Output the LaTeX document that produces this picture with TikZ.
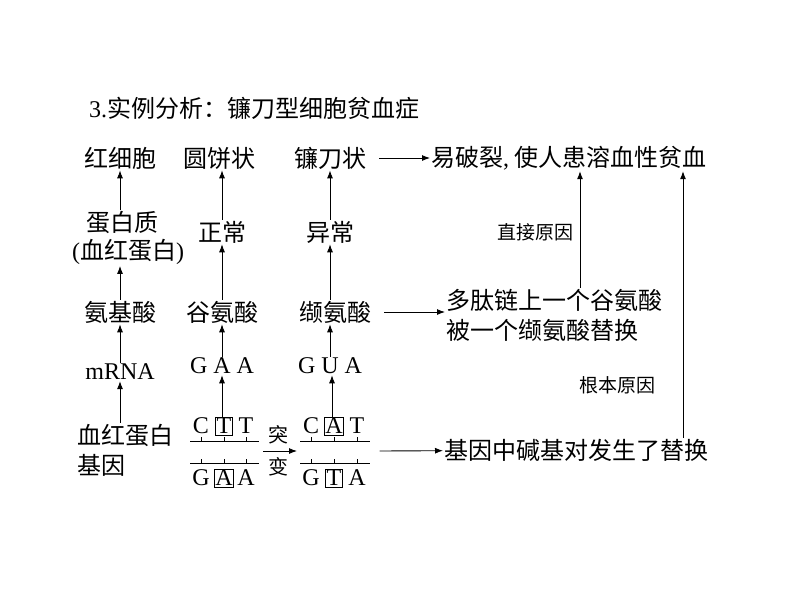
\documentclass[tikz,border=0pt]{standalone}
\usepackage{fontspec}
\setmainfont{Liberation Serif}
\newfontfamily\cjk{Noto Sans CJK SC}
\usetikzlibrary{arrows.meta}
\begin{document}
\begin{tikzpicture}[x=1pt,y=1pt,
  t/.style={inner sep=1pt,font=\fontsize{24}{27}\selectfont\cjk},
  l/.style={inner sep=1pt,font=\fontsize{24}{27}\selectfont},
  ar/.style={-{Latex[length=8pt,width=6pt]},line width=0.9pt},
  bx/.style={draw,line width=0.7pt,inner sep=1pt}]
\useasboundingbox (0,0) rectangle (794,-603);
\node[t,anchor=west] (title) at (88,-108) {{\rmfamily 3.}实例分析：镰刀型细胞贫血症};
% row 1
\node[t] (r1a) at (120,-158) {红细胞};
\node[t] (r1b) at (219,-158) {圆饼状};
\node[t] (r1c) at (330,-158) {镰刀状};
\node[t,anchor=west] (r1d) at (430,-158) {易破裂{\rmfamily,} 使人患溶血性贫血};
% row 2
\node[t] (r2a) at (122,-222) {蛋白质};
\node[t] (r2a2) at (128,-252) {{\rmfamily(}血红蛋白{\rmfamily)}};
\node[t] (r2b) at (222,-232) {正常};
\node[t] (r2c) at (330,-232) {异常};
\node[t,font=\fontsize{19}{21}\selectfont\cjk] (why1) at (535,-232) {直接原因};
% row 3
\node[t] (r3a) at (120,-312) {氨基酸};
\node[t] (r3b) at (222,-312) {谷氨酸};
\node[t] (r3c) at (335,-312) {缬氨酸};
\node[t,anchor=west] (r3d1) at (445,-300) {多肽链上一个谷氨酸};
\node[t,anchor=west] (r3d2) at (445,-330) {被一个缬氨酸替换};
% row 4
\node[l] (r4a) at (120,-372) {mRNA};
\node[l] (r4b) at (222,-366) {G A A};
\node[l] (r4c) at (330,-366) {G U A};
\node[t,font=\fontsize{19}{21}\selectfont\cjk] (why2) at (617,-385) {根本原因};
% row 5
\node[t,anchor=west] (r5a) at (76,-435) {血红蛋白};
\node[t,anchor=west] (r5a2) at (76,-465) {基因};
% DNA left
\node[l] (L1) at (201,-426) {C};
\node[l,bx] (L2) at (224,-426) {T};
\node[l] (L3) at (246,-426) {T};
\node[l] (L4) at (201,-478) {G};
\node[l,bx] (L5) at (224,-478) {A};
\node[l] (L6) at (246,-478) {A};
\draw[line width=0.8pt] (190,-441) -- (259,-441);
\draw[line width=0.8pt] (190,-463) -- (259,-463);
\foreach \x in {201,224,246}{\draw (\x,-441)--(\x,-437); \draw (\x,-463)--(\x,-459);}
% DNA right
\node[l] (R1) at (311,-426) {C};
\node[l,bx] (R2) at (334,-426) {A};
\node[l] (R3) at (357,-426) {T};
\node[l] (R4) at (311,-478) {G};
\node[l,bx] (R5) at (334,-478) {T};
\node[l] (R6) at (357,-478) {A};
\draw[line width=0.8pt] (300,-441) -- (370,-441);
\draw[line width=0.8pt] (300,-463) -- (370,-463);
\foreach \x in {311,334,357}{\draw (\x,-441)--(\x,-437); \draw (\x,-463)--(\x,-459);}
\coordinate (m1) at (263,-451); \coordinate (m2) at (297,-451);
\draw[ar] (m1) -- (m2);
\node[t,font=\fontsize{20}{22}\selectfont\cjk] (tu) at (278,-435) {突};
\node[t,font=\fontsize{20}{22}\selectfont\cjk] (bian) at (278,-467) {变};
\node[t,anchor=west] (r5d) at (443,-450) {基因中碱基对发生了替换};
% vertical arrows
\draw[ar] (r2a.north -| 120,0) -- (r1a.south -| 120,0);
\draw[ar] (r3a.north -| 120,0) -- (r2a2.south -| 120,0);
\draw[ar] (r4a.north -| 120,0) -- (r3a.south -| 120,0);
\draw[ar] (r5a.north -| 120,0) -- (r4a.south -| 120,0);
\draw[ar] (r2b.north -| 222,0) -- (r1b.south -| 222,0);
\draw[ar] (r3b) -- (r2b);
\draw[ar] (r4b) -- (r3b);
\draw[ar] (L2.north -| 222,0) -- (r4b.south -| 222,0);
\draw[ar] (r2c) -- (r1c);
\draw[ar] (r3c.north -| 330,0) -- (r2c.south -| 330,0);
\draw[ar] (r4c) -- (r3c.south -| r4c);
\draw[ar] (R2.north -| 332,0) -- (r4c.south -| 332,0);
% horizontal arrows
\draw[ar] (r1c.east) ++(12,0) coordinate (h1) (h1) -- (r1d);
\draw[ar] (r3c.east) ++(12,0) coordinate (h2) (h2) -- (r3d1.west |- r3c);
\draw[ar] (R3.east |- m1) ++(14,0) coordinate (h3) (h3) -- (r5d);
% cause arrows
\draw[ar] (r3d1.north -| 580,0) -- (r1d.south -| 580,0);
\draw[ar] (r5d.north -| 683,0) -- (r1d.south -| 683,0);
\end{tikzpicture}
\end{document}
